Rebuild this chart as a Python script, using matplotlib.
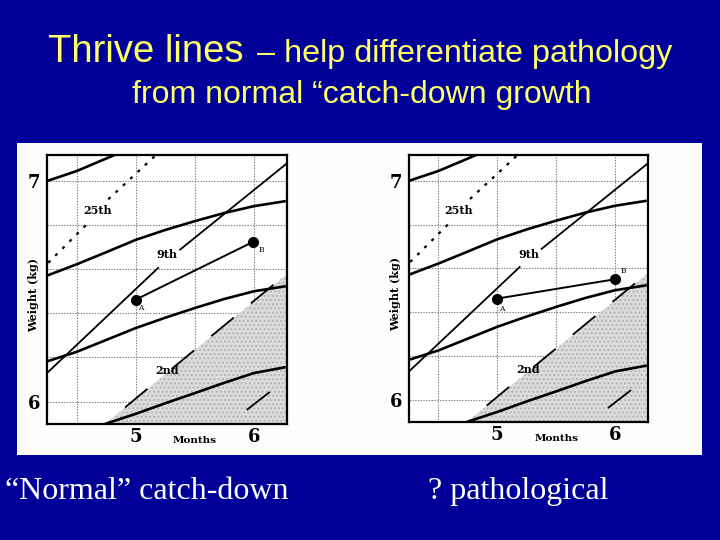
import numpy as np
import matplotlib
matplotlib.use("Agg")
import matplotlib.pyplot as plt
from matplotlib.patches import Rectangle
from matplotlib.transforms import blended_transform_factory

plt.rcParams['lines.scale_dashes'] = False

# --- Data (months, kg) ---
MONTH_LIM = (4.25, 6.28)
WEIGHT_LIM = (5.898, 7.118)
GRID_MONTHS = [4.5, 5.0, 5.5, 6.0]
GRID_WEIGHTS = [6.0, 6.2, 6.4, 6.6, 6.8, 7.0]
MONTH_TICKS = [5, 6]
WEIGHT_TICKS = [6, 7]

# percentile curves
top_months = [4.25, 4.5, 4.83]
top_weights = [7.0, 7.045, 7.12]
p25_months = [4.25, 4.5, 4.75, 5.0, 5.25, 5.5, 5.75, 6.0, 6.27]
p25_weights = [6.571, 6.622, 6.677, 6.733, 6.778, 6.818, 6.855, 6.886, 6.909]
p9_months = [4.25, 4.5, 4.75, 5.0, 5.25, 5.5, 5.75, 6.0, 6.27]
p9_weights = [6.182, 6.225, 6.279, 6.333, 6.38, 6.424, 6.465, 6.5, 6.523]
p2_months = [4.74, 5.0, 5.25, 5.5, 5.75, 6.0, 6.27]
p2_weights = [5.898, 5.944, 5.992, 6.038, 6.085, 6.129, 6.156]

# thrive lines (nan = gap where the label sits)
dotted_months = [4.26, 4.585, np.nan, 4.768, 5.164]
dotted_weights = [6.629, 6.803, np.nan, 6.917, 7.114]
steep_months = [4.25, 5.19, np.nan, 5.376, 6.27]
steep_weights = [6.129, 6.606, np.nan, 6.689, 7.076]
dash_months = [4.91, 5.107, np.nan, 5.305, 6.27]
dash_weights = [5.973, 6.061, np.nan, 6.148, 6.576]
dash2_months = [5.94, 6.27]
dash2_weights = [5.962, 6.10]

# shaded zone below the dashed thrive line
shade_months = [4.74, 6.27]
shade_upper = [5.898, 6.574]

# labels
curve_labels = ["25th", "9th", "2nd"]
curve_label_months = [4.675, 5.265, 5.265]
curve_label_weights = [6.866, 6.665, 6.14]

# child's measurements A and B in each chart
point_a = (5.0, 6.462)
point_b_normal = (5.989, 6.723)
point_b_patho = (5.997, 6.55)

captions = ["\u201cNormal\u201d catch-down", "? pathological"]

BLUE = "#000099"
SERIF = "DejaVu Serif"


def draw_chart(ax, pa, pb, a_lab, b_lab):
    ax.set_xlim(*MONTH_LIM)
    ax.set_ylim(*WEIGHT_LIM)
    ax.set_facecolor("white")

    ax.fill_between(shade_months, [WEIGHT_LIM[0] - 0.1] * 2, shade_upper,
                    facecolor="#dcdcdc", edgecolor="#b4b4b4", hatch="....",
                    linewidth=0, zorder=1)

    ax.set_xticks(GRID_MONTHS, minor=True)
    ax.set_yticks(GRID_WEIGHTS, minor=True)
    ax.set_xticks(MONTH_TICKS)
    ax.set_yticks(WEIGHT_TICKS)
    ax.set_xticklabels([str(t) for t in MONTH_TICKS])
    ax.set_yticklabels([str(t) for t in WEIGHT_TICKS])
    ax.grid(which="both", color="0.5", linestyle=(0, (1, 1)), linewidth=0.8, zorder=0)
    ax.set_axisbelow(True)
    ax.tick_params(which="both", length=0)
    ax.tick_params(axis="y", pad=5)
    ax.tick_params(axis="x", pad=3)
    for lab in ax.get_xticklabels() + ax.get_yticklabels():
        lab.set_fontfamily(SERIF)
        lab.set_fontweight("bold")
        lab.set_fontsize(13)
    for sp in ax.spines.values():
        sp.set_linewidth(1.6)

    for m, w in [(top_months, top_weights), (p25_months, p25_weights),
                 (p9_months, p9_weights), (p2_months, p2_weights)]:
        ax.plot(m, w, color="black", lw=1.9, zorder=3, solid_capstyle="butt",
                solid_joinstyle="round")

    ax.plot(dotted_months, dotted_weights, color="black", lw=1.6,
            linestyle=(0, (2.2, 5)), zorder=3)
    ax.plot(steep_months, steep_weights, color="black", lw=1.3, zorder=3)
    ax.plot(dash_months, dash_weights, color="black", lw=1.3,
            linestyle=(0, (21, 16)), zorder=3)
    ax.plot(dash2_months, dash2_weights, color="black", lw=1.3,
            linestyle=(0, (21, 16)), zorder=3)

    ax.plot([pa[0], pb[0]], [pa[1], pb[1]], color="black", lw=1.4, zorder=4)
    ax.plot([pa[0], pb[0]], [pa[1], pb[1]], "o", color="black", ms=7, zorder=5)
    ax.text(a_lab[0], a_lab[1], "A", fontsize=5.5, family=SERIF, ha="center", va="center")
    ax.text(b_lab[0], b_lab[1], "B", fontsize=5.5, family=SERIF, ha="center", va="center")

    for t, m, w in zip(curve_labels, curve_label_months, curve_label_weights):
        ax.text(m, w, t, fontsize=8, family=SERIF, fontweight="bold",
                ha="center", va="center", zorder=4)

    trans = blended_transform_factory(ax.transData, ax.transAxes)
    ax.text(5.5, -0.045, "Months", transform=trans, fontsize=7.5, family=SERIF,
            fontweight="bold", ha="center", va="top")
    ax.text(-0.055, 0.48, "Weight (kg)", transform=ax.transAxes, fontsize=8,
            family=SERIF, fontweight="bold", rotation=90, ha="center", va="center")


fig = plt.figure(figsize=(7.2, 5.4), dpi=100, facecolor=BLUE)

# white scanned panel behind both charts
fig.patches.append(Rectangle((17 / 720, 1 - 455 / 540), 685 / 720, 312 / 540,
                             transform=fig.transFigure, facecolor="#fdfdfd",
                             edgecolor="none", zorder=-1))

ax1 = fig.add_axes([47 / 720, 1 - 424 / 540, 240 / 720, 269 / 540])
draw_chart(ax1, point_a, point_b_normal, (5.045, 6.424), (6.06, 6.686))

ax2 = fig.add_axes([409 / 720, 1 - 422 / 540, 239 / 720, 267 / 540])
draw_chart(ax2, point_a, point_b_patho, (5.034, 6.415), (6.068, 6.587))

# title
fig.text(48 / 720, 1 - 62 / 540, "Thrive lines", color="#ffff66",
         family="Liberation Sans", fontsize=27.5, ha="left", va="baseline")
fig.text(257 / 720, 1 - 62 / 540, "\u2013 help differentiate pathology", color="#ffff66",
         family="Liberation Sans", fontsize=23.3, ha="left", va="baseline")
fig.text(362 / 720, 1 - 103 / 540, "from normal \u201ccatch-down growth", color="#ffff66",
         family="Liberation Sans", fontsize=23, ha="center", va="baseline")

# captions
fig.text(5 / 720, 1 - 499 / 540, captions[0], color="white",
         family="Liberation Serif", fontsize=23, ha="left", va="baseline")
fig.text(428 / 720, 1 - 499 / 540, captions[1], color="white",
         family="Liberation Serif", fontsize=23, ha="left", va="baseline")

fig.savefig("out.png", dpi=100, facecolor=BLUE)
